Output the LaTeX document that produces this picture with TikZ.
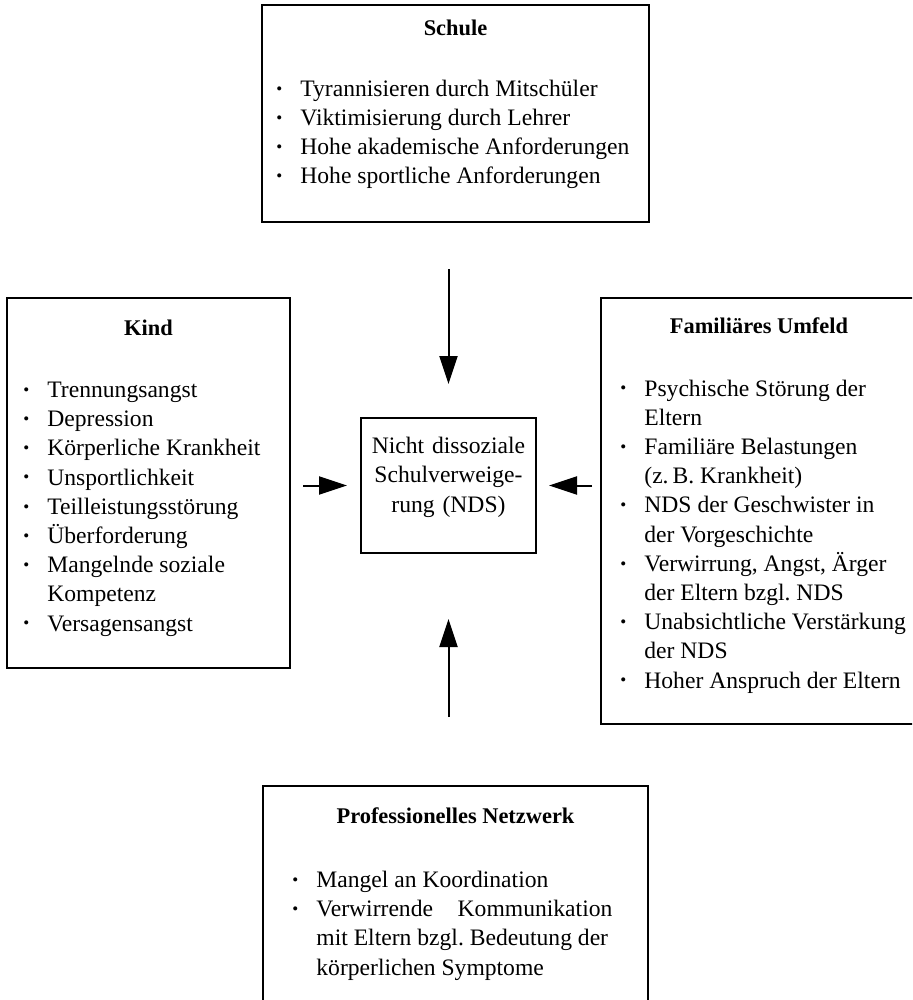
\documentclass[tikz,border=0pt]{standalone}
\usepackage{fontspec}
\setmainfont{Liberation Serif}
\usepackage{graphicx}
\usetikzlibrary{arrows.meta}
\usetikzlibrary{positioning}
\usetikzlibrary{fit}
\frenchspacing

\newcommand{\pkt}{\makebox[12pt][l]{\raisebox{1.1pt}{\scalebox{0.72}{\textbullet}}}}
\newcommand{\weiter}{\hspace*{12pt}}

\tikzset{
  kasten/.style={draw=black,line width=1pt,rectangle,inner sep=0pt},
  titel/.style={font=\fontsize{11.2}{14.6}\selectfont\bfseries,anchor=base,inner sep=0pt},
  liste/.style={font=\fontsize{11.8}{14.6}\selectfont,align=left,anchor=base west,inner sep=0pt},
  pfeil/.style={line width=1pt,-{Triangle[length=14pt,width=9pt]}}
}

\begin{document}
\begin{tikzpicture}[x=0.5pt,y=-0.5pt]
\useasboundingbox (0,0) rectangle (912,1000);
\clip (0,0) rectangle (912,1000);

% Kaesten
\node[kasten,fit={(262,5) (649,222)}] (schule) {};
\node[kasten,fit={(7,298) (290,668)}] (kind) {};
\node[kasten,fit={(601,298) (917,724)}] (familie) {};
\node[kasten,fit={(263,786) (648,1010)}] (netz) {};
\node[kasten,fit={(361,418) (536,553)},align=center,font=\fontsize{11.8}{14.6}\selectfont] (nds)
  {Nicht dissoziale\\Schulverweige-\\rung (NDS)};

% Ueberschriften
\node[titel] (schulet) at (455.5,36) {Schule};
\node[titel] (kindt) at (148.5,335) {Kind};
\node[titel] (familiet) at (759,333) {Familiäres Umfeld};
\node[titel] (netzt) at (455.5,823) {Professionelles Netzwerk};

% Listen (Anker an der Grundlinie der letzten Zeile)
\node[liste] (schulel) at (276,184) {\pkt Tyrannisieren durch Mitschüler\\
  \pkt Viktimisierung durch Lehrer\\
  \pkt Hohe akademische Anforderungen\\
  \pkt Hohe sportliche Anforderungen};
\node[liste] (kindl) at (23,631) {\pkt Trennungsangst\\
  \pkt Depression\\
  \pkt Körperliche Krankheit\\
  \pkt Unsportlichkeit\\
  \pkt Teilleistungsstörung\\
  \pkt Überforderung\\
  \pkt Mangelnde soziale\\
  \weiter Kompetenz\\
  \pkt Versagensangst};
\node[liste] (familiel) at (620,688) {\pkt Psychische Störung der\\
  \weiter Eltern\\
  \pkt Familiäre Belastungen\\
  \weiter (z.\,B. Krankheit)\\
  \pkt NDS der Geschwister in\\
  \weiter der Vorgeschichte\\
  \pkt Verwirrung, Angst, Ärger\\
  \weiter der Eltern bzgl. NDS\\
  \pkt Unabsichtliche Verstärkung\\
  \weiter der NDS\\
  \pkt Hoher Anspruch der Eltern};
\node[liste] (netzl) at (292,975) {\pkt Mangel an Koordination\\
  \pkt \makebox[148pt][s]{Verwirrende Kommunikation}\\
  \weiter mit Eltern bzgl. Bedeutung der\\
  \weiter körperlichen Symptome};

% Pfeile
\draw[pfeil,shorten <=23pt,shorten >=16.5pt] (nds.north |- schule.south) -- (nds.north);
\draw[pfeil,shorten <=6pt,shorten >=6.5pt] (kind.east |- nds.west) -- (nds.west);
\draw[pfeil,shorten <=4pt,shorten >=6pt] (familie.west |- nds.east) -- (nds.east);
\draw[pfeil,shorten <=34pt,shorten >=32.5pt] (nds.south |- netz.north) -- (nds.south);

\end{tikzpicture}
\end{document}
